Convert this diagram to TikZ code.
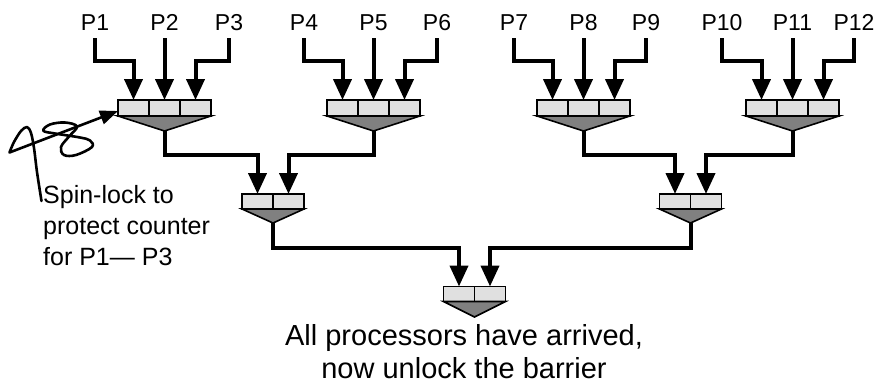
\documentclass[tikz,border=0pt]{standalone}
\usepackage{fontspec}
\setmainfont{Liberation Sans}
\usetikzlibrary{arrows.meta}
\definecolor{cellgray}{RGB}{224,224,224}
\definecolor{trigray}{RGB}{128,128,128}
\begin{document}
\begin{tikzpicture}[x=1pt,y=-1pt,
  conn/.style={line width=4pt,line join=miter,-{Triangle[width=18pt,length=21pt]}},
  cell/.style={draw,line width=1.8pt,fill=cellgray,minimum width=31pt,minimum height=16pt,inner sep=0pt,outer sep=0pt},
  cellb/.style={cell,minimum height=15pt},
  tri/.style={draw,line width=1.6pt,fill=trigray,line join=miter},
  plabel/.style={font=\fontsize{23}{28}\selectfont,inner sep=0pt,anchor=base},
  scrib/.style={line width=2.6pt,line cap=round,line join=round},
]
\useasboundingbox (0,0) rectangle (888,391);

% level 1 cells
\node[cell] (a1) at (133.5,108) {};
\node[cell] (a2) at (164.5,108) {};
\node[cell] (a3) at (195.5,108) {};
\node[cell] (a4) at (342.5,108) {};
\node[cell] (a5) at (373.5,108) {};
\node[cell] (a6) at (404.5,108) {};
\node[cell] (a7) at (552.5,108) {};
\node[cell] (a8) at (583.5,108) {};
\node[cell] (a9) at (614.5,108) {};
\node[cell] (a10) at (761.5,108) {};
\node[cell] (a11) at (792.5,108) {};
\node[cell] (a12) at (823.5,108) {};
\coordinate (t1) at (164.5,131);
\coordinate (t2) at (373.5,131);
\coordinate (t3) at (583.5,131);
\coordinate (t4) at (792.5,131);
\draw[tri] (a1.south west) -- (a3.south east) -- (t1) -- cycle;
\draw[tri] (a4.south west) -- (a6.south east) -- (t2) -- cycle;
\draw[tri] (a7.south west) -- (a9.south east) -- (t3) -- cycle;
\draw[tri] (a10.south west) -- (a12.south east) -- (t4) -- cycle;

% level 2 cells
\node[cellb] (b1) at (257.5,201.5) {};
\node[cellb] (b2) at (288.5,201.5) {};
\node[cellb] (c1) at (675,201.5) {};
\node[cellb] (c2) at (706,201.5) {};
\coordinate (s1) at (273,223);
\coordinate (s2) at (690.5,223);
\draw[tri] (b1.south west) -- (b2.south east) -- (s1) -- cycle;
\draw[tri] (c1.south west) -- (c2.south east) -- (s2) -- cycle;

% level 3 cells
\node[cellb] (d1) at (459,294) {};
\node[cellb] (d2) at (490,294) {};
\coordinate (u1) at (474.5,317);
\draw[tri] (d1.south west) -- (d2.south east) -- (u1) -- cycle;

% processor labels
\node[plabel] (p1) at (95,30) {P1};
\node[plabel] (p2) at (164.5,30) {P2};
\node[plabel] (p3) at (229,30) {P3};
\node[plabel] (p4) at (304,30) {P4};
\node[plabel] (p5) at (373.5,30) {P5};
\node[plabel] (p6) at (437,30) {P6};
\node[plabel] (p7) at (514,30) {P7};
\node[plabel] (p8) at (583.5,30) {P8};
\node[plabel] (p9) at (646,30) {P9};
\node[plabel] (p10) at (722,30) {P10};
\node[plabel] (p11) at (792.5,30) {P11};
\node[plabel] (p12) at (854,30) {P12};

% processor connectors
\draw[conn] (p1.south) ++(0,8) -- ++(0,23) -| (a1.north);
\draw[conn] (p2.south) ++(0,8) -- (a2.north);
\draw[conn] (p3.south) ++(0,8) -- ++(0,23) -| (a3.north);
\draw[conn] (p4.south) ++(0,8) -- ++(0,23) -| (a4.north);
\draw[conn] (p5.south) ++(0,8) -- (a5.north);
\draw[conn] (p6.south) ++(0,8) -- ++(0,23) -| (a6.north);
\draw[conn] (p7.south) ++(0,8) -- ++(0,23) -| (a7.north);
\draw[conn] (p8.south) ++(0,8) -- (a8.north);
\draw[conn] (p9.south) ++(0,8) -- ++(0,23) -| (a9.north);
\draw[conn] (p10.south) ++(0,8) -- ++(0,23) -| (a10.north);
\draw[conn] (p11.south) ++(0,8) -- (a11.north);
\draw[conn] (p12.south) ++(0,8) -- ++(0,23) -| (a12.north);

% tree connectors
\draw[conn] (t1) -- ++(0,23.5) -| (b1.north);
\draw[conn] (t2) -- ++(0,23.5) -| (b2.north);
\draw[conn] (t3) -- ++(0,23.5) -| (c1.north);
\draw[conn] (t4) -- ++(0,23.5) -| (c2.north);
\draw[conn] (s1) -- ++(0,24.5) -| (d1.north);
\draw[conn] (s2) -- ++(0,24.5) -| (d2.north);

% scribble annotation
\coordinate (hook) at (9.5,152.5);
\draw[scrib,-{Triangle[width=14pt,length=18pt]}] plot[smooth,tension=0.55] coordinates {(41.5,201) (37,172) (34,148) (31,133) (27,127) (21,131) (14,142) (9.5,152.5)} -- ([yshift=-3pt]a1.west);
\draw[scrib] plot[smooth cycle,tension=0.6] coordinates {(43.3,130.7) (50,124.5) (65,122.5) (77,126.5) (69,136.5) (61,147) (64,155) (76,155) (92,147) (90,140.5) (80,137.5) (55,133.5)};
\node[font=\fontsize{25}{31}\selectfont,align=left,anchor=north west,inner sep=0pt] (note) at (43,185) {Spin-lock to\\protect counter\\for P1— P3};

\node[font=\fontsize{29}{33}\selectfont,align=center,anchor=north,inner sep=0pt] (caption) at (464,324) {All processors have arrived,\\now unlock the barrier};
\end{tikzpicture}
\end{document}
